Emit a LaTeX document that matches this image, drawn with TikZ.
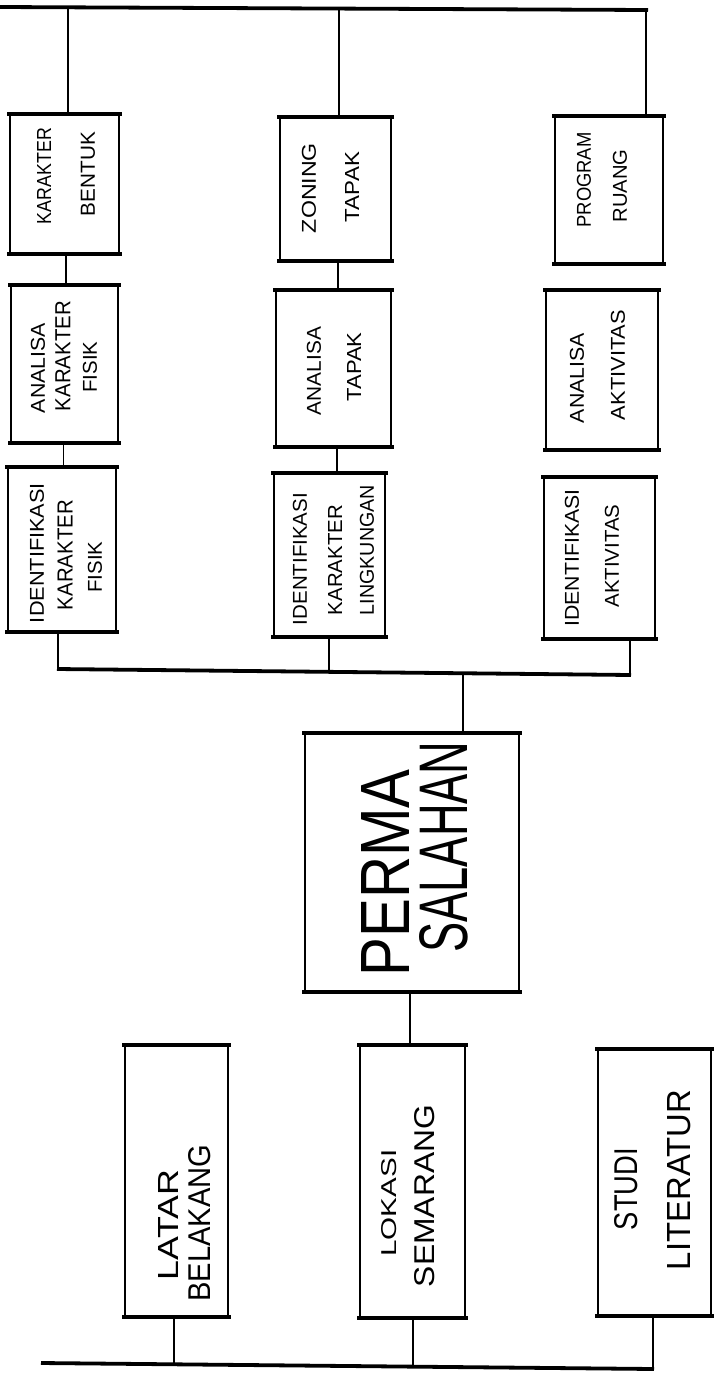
\documentclass[tikz,border=0pt]{standalone}
\usepackage{fontspec}
\setmainfont{Liberation Sans}
\usepackage{graphicx}
\usetikzlibrary{fit,calc}
\tikzset{
  boxfit/.style={rectangle, inner sep=0pt, draw=none},
  boxside/.style={line width=1.5pt, black},
  boxedge/.style={line width=4pt, black},
  conn/.style={line width=1.8pt, black},
  busline/.style={line width=3.8pt, black},
  lbl/.style={rotate=90, inner sep=0pt, anchor=center},
}
% name, x1, y1, x2, y2
\newcommand{\flowbox}[5]{%
  \node[boxfit, fit={(#2,#3) (#4,#5)}] (#1) {};
  \draw[boxside] (#1.north west) -- (#1.south west) (#1.north east) -- (#1.south east);
  \draw[boxedge] ([xshift=-2.5pt]#1.north west) -- ([xshift=2.5pt]#1.north east);
  \draw[boxedge] ([xshift=-2.5pt]#1.south west) -- ([xshift=2.5pt]#1.south east);
}
% name, cx, cy, length, cap height, text
\newcommand{\rline}[6]{\node[lbl] (#1) at (#2,#3) {\resizebox{#4pt}{#5pt}{#6}};}
\begin{document}
\begin{tikzpicture}[x=1pt,y=-1pt]
\fill[white] (0,0) rectangle (715,1385);
\useasboundingbox (0,0) rectangle (715,1385);

% boxes
\flowbox{kb}{10}{114}{119}{254}
\flowbox{akf}{11}{285}{118}{443}
\flowbox{ikf}{8}{467}{116}{632}
\flowbox{zt}{280}{117}{391}{261}
\flowbox{at}{276}{290}{391}{447}
\flowbox{ikl}{274}{473}{385}{637}
\flowbox{pr}{555}{116}{663}{264}
\flowbox{aa}{546}{290}{658}{450}
\flowbox{iak}{544}{477}{655}{639}
\flowbox{perm}{305}{733}{519}{992}
\flowbox{lb}{125}{1045}{228}{1317}
\flowbox{ls}{360}{1045}{465}{1318}
\flowbox{sl}{598}{1049}{711}{1316}

% top bar
\coordinate (tL) at (0,7);
\coordinate (tR) at (646,10);
\draw[busline] (tL) -- ([xshift=2pt]tR);
\path (tL) -- (tR) coordinate[pos=0.105] (t1) coordinate[pos=0.525] (t2);
\draw[conn] (t1) -- (t1 |- kb.north);
\draw[conn] (t2) -- (t2 |- zt.north);
\draw[conn] (tR) -- (tR |- pr.north);

% column links
\draw[conn] ([xshift=1.5pt]kb.south) -- ([xshift=1.5pt]kb.south |- akf.north);
\draw[conn] ([xshift=-1pt]akf.south) -- ([xshift=-1pt]akf.south |- ikf.north);
\draw[conn] ([xshift=2.5pt]zt.south) -- ([xshift=2.5pt]zt.south |- at.north);
\draw[conn] ([xshift=3.5pt]at.south) -- ([xshift=3.5pt]at.south |- ikl.north);

% middle bus
\coordinate (mL) at (58,669);
\coordinate (mR) at (630,675);
\draw[busline] ([xshift=-1pt]mL) -- ([xshift=1pt]mR);
\path (mL) -- (mR) coordinate[pos=0.474] (m2) coordinate[pos=0.708] (m3);
\draw[conn] (mL) -- (mL |- ikf.south);
\draw[conn] (m2) -- (m2 |- ikl.south);
\draw[conn] (mR) -- (mR |- iak.south);
\draw[conn] (m3) -- (m3 |- perm.north);

% permasalahan to lokasi
\draw[conn] ([xshift=-2pt]perm.south) -- ([xshift=-2pt]perm.south |- ls.north);

% bottom bus
\coordinate (bL) at (41,1363);
\coordinate (bR) at (653,1369);
\draw[busline] (bL) -- ([xshift=1pt]bR);
\path (bL) -- (bR) coordinate[pos=0.217] (b1) coordinate[pos=0.608] (b2);
\draw[conn] (b1) -- (b1 |- lb.south);
\draw[conn] (b2) -- (b2 |- ls.south);
\draw[conn] (bR) -- (bR |- sl.south);

% labels
\rline{kb1}{44}{176}{96}{14}{KARAKTER}
\rline{kb2}{88}{174}{84}{14}{BENTUK}
\rline{akf1}{38}{368}{90}{14}{ANALISA}
\rline{akf2}{63}{356}{110}{15}{KARAKTER}
\rline{akf3}{90}{367}{51}{14}{FISIK}
\rline{ikf1}{37}{553}{140}{14}{IDENTIFIKASI}
\rline{ikf2}{65}{555}{110}{15}{KARAKTER}
\rline{ikf3}{95}{567}{51}{14}{FISIK}
\rline{zt1}{309}{188}{90}{14}{ZONING}
\rline{zt2}{352}{187}{70}{14}{TAPAK}
\rline{at1}{314}{371}{88}{14}{ANALISA}
\rline{at2}{354}{367}{69}{14}{TAPAK}
\rline{ikl1}{300}{559}{132}{14}{IDENTIFIKASI}
\rline{ikl2}{335}{560}{110}{14}{KARAKTER}
\rline{ikl3}{367}{550}{130}{14}{LINGKUNGAN}
\rline{pr1}{584}{180}{95}{14}{PROGRAM}
\rline{pr2}{620}{186}{73}{14}{RUANG}
\rline{aa1}{577}{378}{90}{14}{ANALISA}
\rline{aa2}{618}{365}{110}{14}{AKTIVITAS}
\rline{iak1}{572}{558}{137}{14}{IDENTIFIKASI}
\rline{iak2}{612}{556}{103}{14}{AKTIVITAS}
\rline{perm1}{385}{873}{207}{48}{PERMA}
\rline{perm2}{444}{847}{211}{48}{SALAHAN}
\rline{lb1}{168}{1225}{110}{20}{LATAR}
\rline{lb2}{200}{1223}{157}{22}{BELAKANG}
\rline{ls1}{389}{1203}{107}{15}{LOKASI}
\rline{ls2}{425}{1196}{182}{20}{SEMARANG}
\rline{sl1}{626}{1189}{82}{23}{STUDI}
\rline{sl2}{679}{1180}{180}{23}{LITERATUR}
\end{tikzpicture}
\end{document}
